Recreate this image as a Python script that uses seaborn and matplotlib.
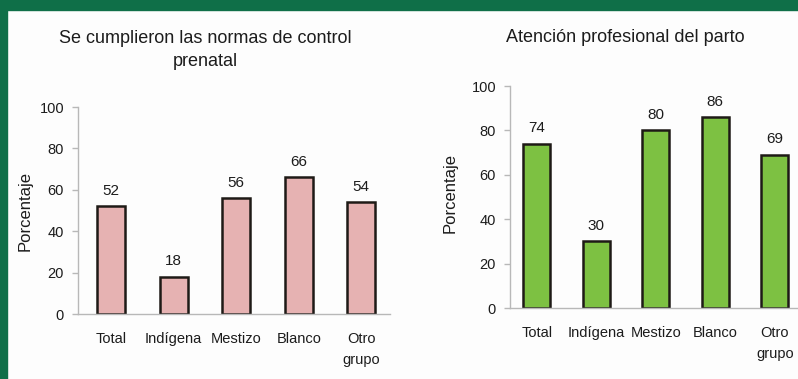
import matplotlib
matplotlib.use("Agg")
import matplotlib.pyplot as plt
import seaborn as sns
from matplotlib.patches import Rectangle

# datos
categorias = ["Total", "Indígena", "Mestizo", "Blanco", "Otro\ngrupo"]
control_prenatal = [52, 18, 56, 66, 54]
atencion_parto = [74, 30, 80, 86, 69]

titulo_izq = "Se cumplieron las normas de control\nprenatal"
titulo_der = "Atención profesional del parto"
etiqueta_y = "Porcentaje"
ticks_y = [0, 20, 40, 60, 80, 100]

sns.set_style("white")
plt.rcParams['font.family'] = ['Liberation Sans', 'DejaVu Sans']

texto = "#1c1c1c"
fondo = "#fdfdfd"
verde_marco = "#0f6f48"

fig = plt.figure(figsize=(7.98, 3.79), dpi=100)
fig.patch.set_facecolor(fondo)

# marco verde (arriba e izquierda)
fig.patches.append(Rectangle((0, 1 - 10 / 379), 1, 10 / 379, transform=fig.transFigure,
                             color=verde_marco, zorder=0))
fig.patches.append(Rectangle((0, 0), 7 / 798, 1, transform=fig.transFigure,
                             color=verde_marco, zorder=0))

ax1 = fig.add_axes([78 / 798, 1 - 314 / 379, (390 - 78) / 798, (314 - 107) / 379])
ax2 = fig.add_axes([510 / 798, 1 - 308 / 379, (798 - 510) / 798, (308 - 86) / 379])

paneles = [
    (ax1, control_prenatal, "#e6b2b2", (-0.53, 4.46)),
    (ax2, atencion_parto, "#7dc142", (-0.45, 4.39)),
]

for ax, valores, color, lim_x in paneles:
    ax.set_facecolor(fondo)
    sns.barplot(x=categorias, y=valores, color=color, edgecolor="#1e1a16",
                linewidth=1.8, width=0.45, saturation=1, ax=ax)
    ax.bar_label(ax.containers[0], padding=6, fontsize=11, color=texto)
    ax.set_ylim(0, 100)
    ax.set_xlim(*lim_x)
    ax.set_yticks(ticks_y)
    for lado in ["top", "right"]:
        ax.spines[lado].set_visible(False)
    for lado in ["left", "bottom"]:
        ax.spines[lado].set_color("#b8b8b8")
        ax.spines[lado].set_linewidth(1.0)
    ax.tick_params(axis="y", length=4, width=1, color="#b8b8b8", pad=6,
                   labelsize=10.5, labelcolor=texto, left=True)
    ax.tick_params(axis="x", length=0, pad=13, labelsize=10.5, labelcolor=texto)
    for lbl in ax.get_xticklabels():
        lbl.set_linespacing(1.6)
        lbl.set_verticalalignment("top")
    ax.set_xlabel("")
    ax.set_ylabel("")

fig.text(205 / 798, 1 - 50 / 379, titulo_izq, ha="center", va="center",
         fontsize=13, color=texto, linespacing=1.4)
fig.text(625 / 798, 1 - 38 / 379, titulo_der, ha="center", va="center",
         fontsize=13, color=texto)

fig.text(25 / 798, 1 - 211 / 379, etiqueta_y, rotation=90, ha="center", va="center",
         fontsize=12, color=texto)
fig.text(450 / 798, 1 - 193 / 379, etiqueta_y, rotation=90, ha="center", va="center",
         fontsize=12, color=texto)

fig.savefig("out.png", dpi=100, facecolor=fondo)
